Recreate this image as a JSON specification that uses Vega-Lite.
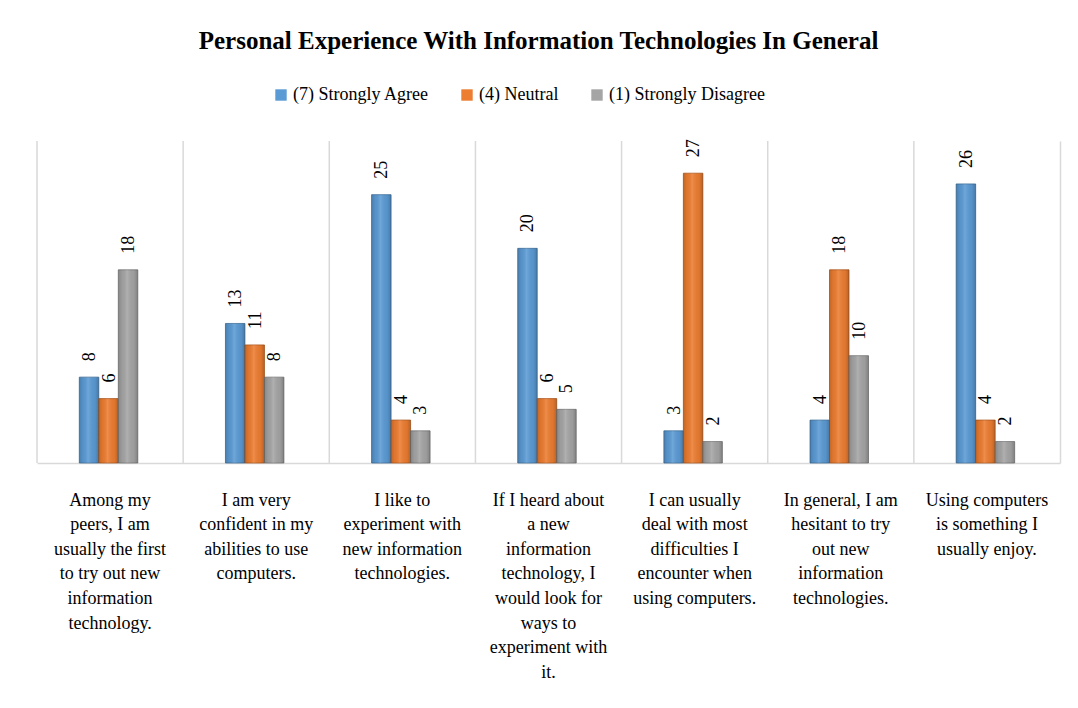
{
  "$schema": "https://vega.github.io/schema/vega-lite/v6.json",
  "width": 1023,
  "height": 322,
  "autosize": {"type": "none"},
  "padding": {"left": 37, "top": 141, "right": 18, "bottom": 245},
  "background": "white",
  "config": {
    "view": {"stroke": null},
    "font": "Liberation Serif"
  },
  "title": {
    "text": "Personal Experience With Information Technologies In General",
    "font": "Liberation Serif",
    "fontSize": 25,
    "fontWeight": "bold",
    "color": "black",
    "anchor": "middle",
    "frame": "group",
    "dx": -10,
    "offset": 32
  },
  "data": {
    "values": [
      {"q": "Among my|peers, I am|usually the first|to try out new|information|technology.", "s": "(7) Strongly Agree", "v": 8},
      {"q": "Among my|peers, I am|usually the first|to try out new|information|technology.", "s": "(4) Neutral", "v": 6},
      {"q": "Among my|peers, I am|usually the first|to try out new|information|technology.", "s": "(1) Strongly Disagree", "v": 18},
      {"q": "I am very|confident in my|abilities to use|computers.", "s": "(7) Strongly Agree", "v": 13},
      {"q": "I am very|confident in my|abilities to use|computers.", "s": "(4) Neutral", "v": 11},
      {"q": "I am very|confident in my|abilities to use|computers.", "s": "(1) Strongly Disagree", "v": 8},
      {"q": "I like to|experiment with|new information|technologies.", "s": "(7) Strongly Agree", "v": 25},
      {"q": "I like to|experiment with|new information|technologies.", "s": "(4) Neutral", "v": 4},
      {"q": "I like to|experiment with|new information|technologies.", "s": "(1) Strongly Disagree", "v": 3},
      {"q": "If I heard about|a new|information|technology, I|would look for|ways to|experiment with|it.", "s": "(7) Strongly Agree", "v": 20},
      {"q": "If I heard about|a new|information|technology, I|would look for|ways to|experiment with|it.", "s": "(4) Neutral", "v": 6},
      {"q": "If I heard about|a new|information|technology, I|would look for|ways to|experiment with|it.", "s": "(1) Strongly Disagree", "v": 5},
      {"q": "I can usually|deal with most|difficulties I|encounter when|using computers.", "s": "(7) Strongly Agree", "v": 3},
      {"q": "I can usually|deal with most|difficulties I|encounter when|using computers.", "s": "(4) Neutral", "v": 27},
      {"q": "I can usually|deal with most|difficulties I|encounter when|using computers.", "s": "(1) Strongly Disagree", "v": 2},
      {"q": "In general, I am|hesitant to try|out new|information|technologies.", "s": "(7) Strongly Agree", "v": 4},
      {"q": "In general, I am|hesitant to try|out new|information|technologies.", "s": "(4) Neutral", "v": 18},
      {"q": "In general, I am|hesitant to try|out new|information|technologies.", "s": "(1) Strongly Disagree", "v": 10},
      {"q": "Using computers|is something I|usually enjoy.", "s": "(7) Strongly Agree", "v": 26},
      {"q": "Using computers|is something I|usually enjoy.", "s": "(4) Neutral", "v": 4},
      {"q": "Using computers|is something I|usually enjoy.", "s": "(1) Strongly Disagree", "v": 2}
    ]
  },
  "encoding": {
    "x": {
      "field": "q",
      "type": "nominal",
      "sort": null,
      "scale": {"paddingInner": 0, "paddingOuter": 0},
      "axis": {
        "title": null,
        "labelAngle": 0,
        "labelLimit": 0,
        "labelExpr": "split(datum.label, '|')",
        "labelFont": "Liberation Serif",
        "labelFontSize": 18,
        "labelColor": "black",
        "labelLineHeight": 24.6,
        "labelBaseline": "top",
        "labelPadding": 28,
        "ticks": false,
        "grid": false,
        "domain": true,
        "domainColor": "#d9d9d9",
        "domainWidth": 1.5
      }
    }
  },
  "layer": [
    {
      "transform": [{"filter": "datum.s === '(7) Strongly Agree'"}],
      "mark": {"type": "rule", "color": "#d9d9d9", "strokeWidth": 1.5},
      "encoding": {
        "x": {"field": "q", "type": "nominal", "sort": null, "bandPosition": 0}
      }
    },
    {
      "mark": {"type": "bar", "strokeWidth": 0.8},
      "encoding": {
        "xOffset": {
          "field": "s",
          "type": "nominal",
          "sort": ["(7) Strongly Agree", "(4) Neutral", "(1) Strongly Disagree"],
          "scale": {"range": [42.3, 100.8], "paddingInner": 0, "paddingOuter": 0}
        },
        "y": {
          "field": "v",
          "type": "quantitative",
          "scale": {"domain": [0, 30], "nice": false},
          "axis": {
            "orient": "right",
            "title": null,
            "labels": false,
            "ticks": false,
            "grid": false,
            "domain": true,
            "domainColor": "#d9d9d9",
            "domainWidth": 1.5
          }
        },
        "color": {
          "field": "s",
          "type": "nominal",
          "scale": {
            "domain": ["(7) Strongly Agree", "(4) Neutral", "(1) Strongly Disagree"],
            "range": ["#5b9bd5", "#ed7d31", "#a5a5a5"]
          },
          "legend": {
            "title": null,
            "orient": "none",
            "direction": "horizontal",
            "legendX": 235,
            "legendY": -55,
            "symbolType": "square",
            "symbolSize": 130,
            "symbolStrokeWidth": 0,
            "labelFont": "Liberation Serif",
            "labelFontSize": 18,
            "labelColor": "black",
            "labelOffset": 3,
            "columnPadding": 29
          }
        },
        "stroke": {
          "field": "s",
          "type": "nominal",
          "scale": {
            "domain": ["(7) Strongly Agree", "(4) Neutral", "(1) Strongly Disagree"],
            "range": ["#41719c", "#ae5a21", "#787878"]
          },
          "legend": null
        }
      }
    },
    {
      "mark": {
        "type": "bar",
        "fill": {
          "gradient": "linear",
          "x1": 0, "y1": 0, "x2": 1, "y2": 0,
          "stops": [
            {"offset": 0, "color": "rgba(0,0,0,0.18)"},
            {"offset": 0.2, "color": "rgba(0,0,0,0.05)"},
            {"offset": 0.45, "color": "rgba(255,255,255,0.12)"},
            {"offset": 0.8, "color": "rgba(0,0,0,0.05)"},
            {"offset": 1, "color": "rgba(0,0,0,0.22)"}
          ]
        }
      },
      "encoding": {
        "xOffset": {
          "field": "s",
          "type": "nominal",
          "sort": ["(7) Strongly Agree", "(4) Neutral", "(1) Strongly Disagree"],
          "scale": {"range": [42.3, 100.8], "paddingInner": 0, "paddingOuter": 0}
        },
        "y": {"field": "v", "type": "quantitative"}
      }
    },
    {
      "mark": {
        "type": "text",
        "angle": 270,
        "align": "left",
        "baseline": "middle",
        "dy": 1,
        "dx": 16,
        "font": "Liberation Serif",
        "fontSize": 18,
        "color": "black"
      },
      "encoding": {
        "xOffset": {
          "field": "s",
          "type": "nominal",
          "sort": ["(7) Strongly Agree", "(4) Neutral", "(1) Strongly Disagree"],
          "scale": {"range": [42.3, 100.8], "paddingInner": 0, "paddingOuter": 0}
        },
        "y": {"field": "v", "type": "quantitative"},
        "text": {"field": "v", "type": "quantitative"}
      }
    }
  ]
}
